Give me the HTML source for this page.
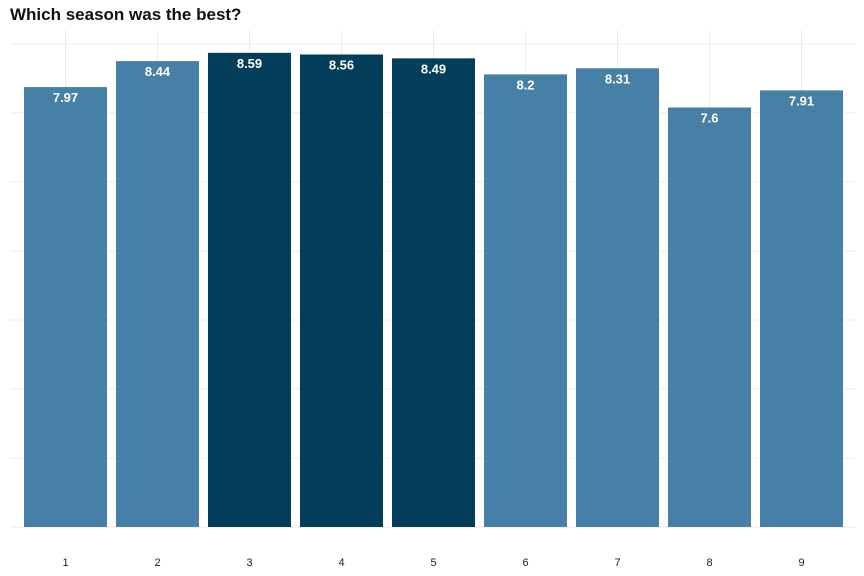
<!DOCTYPE html>
<html><head><meta charset="utf-8"><style>
body{margin:0;background:#fff;}
svg{display:block;font-family:"Liberation Sans",sans-serif;}
</style></head><body>
<svg id="chart" width="864" height="576" viewBox="0 0 864 576">
<text x="10" y="20" font-size="17" font-weight="bold" fill="#111">Which season was the best?</text>
<g id="grid"></g><g id="bars"></g><g id="xlabels"></g>
</svg>
<script>
const seasons = ["1","2","3","4","5","6","7","8","9"];
const ratings = [7.97,8.44,8.59,8.56,8.49,8.2,8.31,7.6,7.91];
const highlighted = [false,false,true,true,true,false,false,false,false];
const yTicks = [0,1.25,2.5,3.75,5,6.25,7.5,8.75];
const NS="http://www.w3.org/2000/svg";
const y0=527, pxPerUnit=55.2, xStart=65.5, step=92, bw=83;
const y=v=>y0-v*pxPerUnit;
const x=i=>xStart+i*step;
function mk(t,a){const e=document.createElementNS(NS,t);for(const k in a)e.setAttribute(k,a[k]);return e;}
const grid=document.getElementById('grid'), bars=document.getElementById('bars'), xl=document.getElementById('xlabels');
yTicks.forEach(t=>{const l=mk('line',{x1:10,x2:856,y1:y(t),y2:y(t),stroke:'#ebebeb','stroke-width':1});


grid.appendChild(l);});
seasons.forEach((s,i)=>{const l=mk('line',{x1:x(i),x2:x(i),y1:30,y2:y0,stroke:'#ebebeb','stroke-width':1});


grid.appendChild(l);});
seasons.forEach((s,i)=>{
const r=mk('rect',{x:x(i)-bw/2,y:y(ratings[i]),width:bw,height:ratings[i]*pxPerUnit,fill:highlighted[i]?'#023d5a':'#4780a6'});


bars.appendChild(r);
const t=mk('text',{x:x(i),y:y(ratings[i])+15,'text-anchor':'middle','font-size':13,'font-weight':'bold',fill:'#fff'});
t.textContent=String(ratings[i]);


bars.appendChild(t);
const lt=mk('text',{x:x(i),y:566,'text-anchor':'middle','font-size':11,fill:'#222'});
lt.textContent=s;


xl.appendChild(lt);
});
</script>
</body></html>
